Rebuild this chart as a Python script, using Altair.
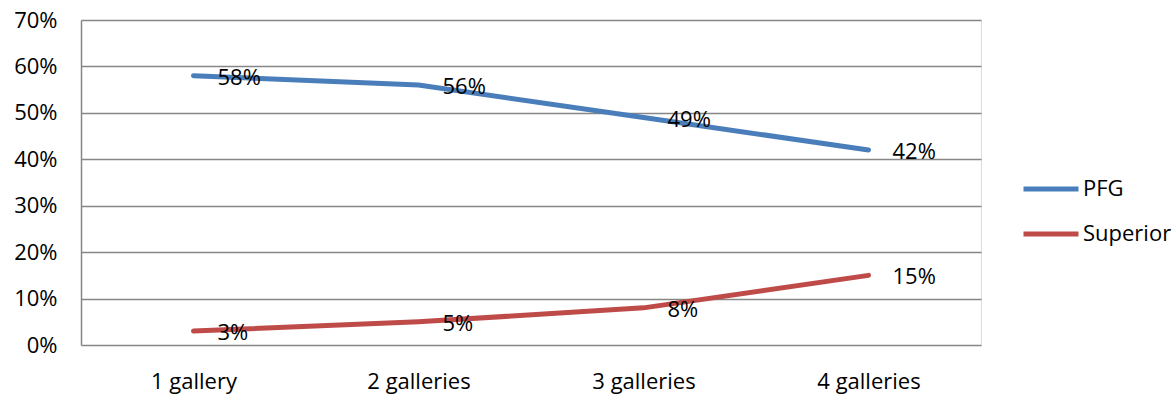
import altair as alt
import pandas as pd

categories = ["1 gallery", "2 galleries", "3 galleries", "4 galleries"]
pfg = [0.58, 0.56, 0.49, 0.42]
superior = [0.03, 0.05, 0.08, 0.15]
series_names = ["PFG", "Superior"]
colors = ["#4A7EBB", "#BE4B48"]

rows = []
for c, v in zip(categories, pfg):
    rows.append({"cat": c, "series": "PFG", "value": v})
for c, v in zip(categories, superior):
    rows.append({"cat": c, "series": "Superior", "value": v})
df = pd.DataFrame(rows)

FONT = "Open Sans"
FS = 22

x = alt.X("cat:N", sort=categories, title=None,
          scale=alt.Scale(type="point", padding=0.5),
          axis=alt.Axis(labelAngle=0, ticks=False, domain=False, grid=False,
                        labelPadding=26, labelFontSize=FS, labelFont=FONT,
                        labelColor="#000000"))
y = alt.Y("value:Q", title=None,
          scale=alt.Scale(domain=[0, 0.7], nice=False),
          axis=alt.Axis(format=".0%", values=[0, 0.1, 0.2, 0.3, 0.4, 0.5, 0.6, 0.7],
                        ticks=False, domain=True, domainColor="#868686", domainWidth=1.5,
                        grid=True, gridColor="#868686", gridWidth=1.5,
                        labelPadding=24, labelFontSize=FS, labelFont=FONT,
                        labelColor="#000000"))
color = alt.Color("series:N", title=None,
                  scale=alt.Scale(domain=series_names, range=colors),
                  legend=alt.Legend(orient="none", legendX=940, legendY=139,
                                    symbolType="stroke", symbolSize=3025,
                                    symbolStrokeWidth=5, labelFontSize=FS,
                                    labelFont=FONT, labelColor="#000000",
                                    labelOffset=2, rowPadding=4))

base = alt.Chart(df)
lines = base.mark_line(strokeWidth=5, strokeCap="round").encode(x=x, y=y, color=color, detail="series:N")
labels = base.mark_text(align="left", baseline="middle", dx=24, dy=2,
                        font=FONT, fontSize=FS, color="#000000").encode(
    x=x, y=y, text=alt.Text("value:Q", format=".0%"))

chart = alt.layer(lines, labels).properties(
    width=900, height=325,
    autosize=alt.AutoSizeParams(type="none"),
    padding={"left": 81, "top": 20, "right": 193, "bottom": 57},
).configure_view(stroke=None).configure(background="#ffffff")

chart.save("out.html", embed_options={"renderer": "svg", "actions": False})
